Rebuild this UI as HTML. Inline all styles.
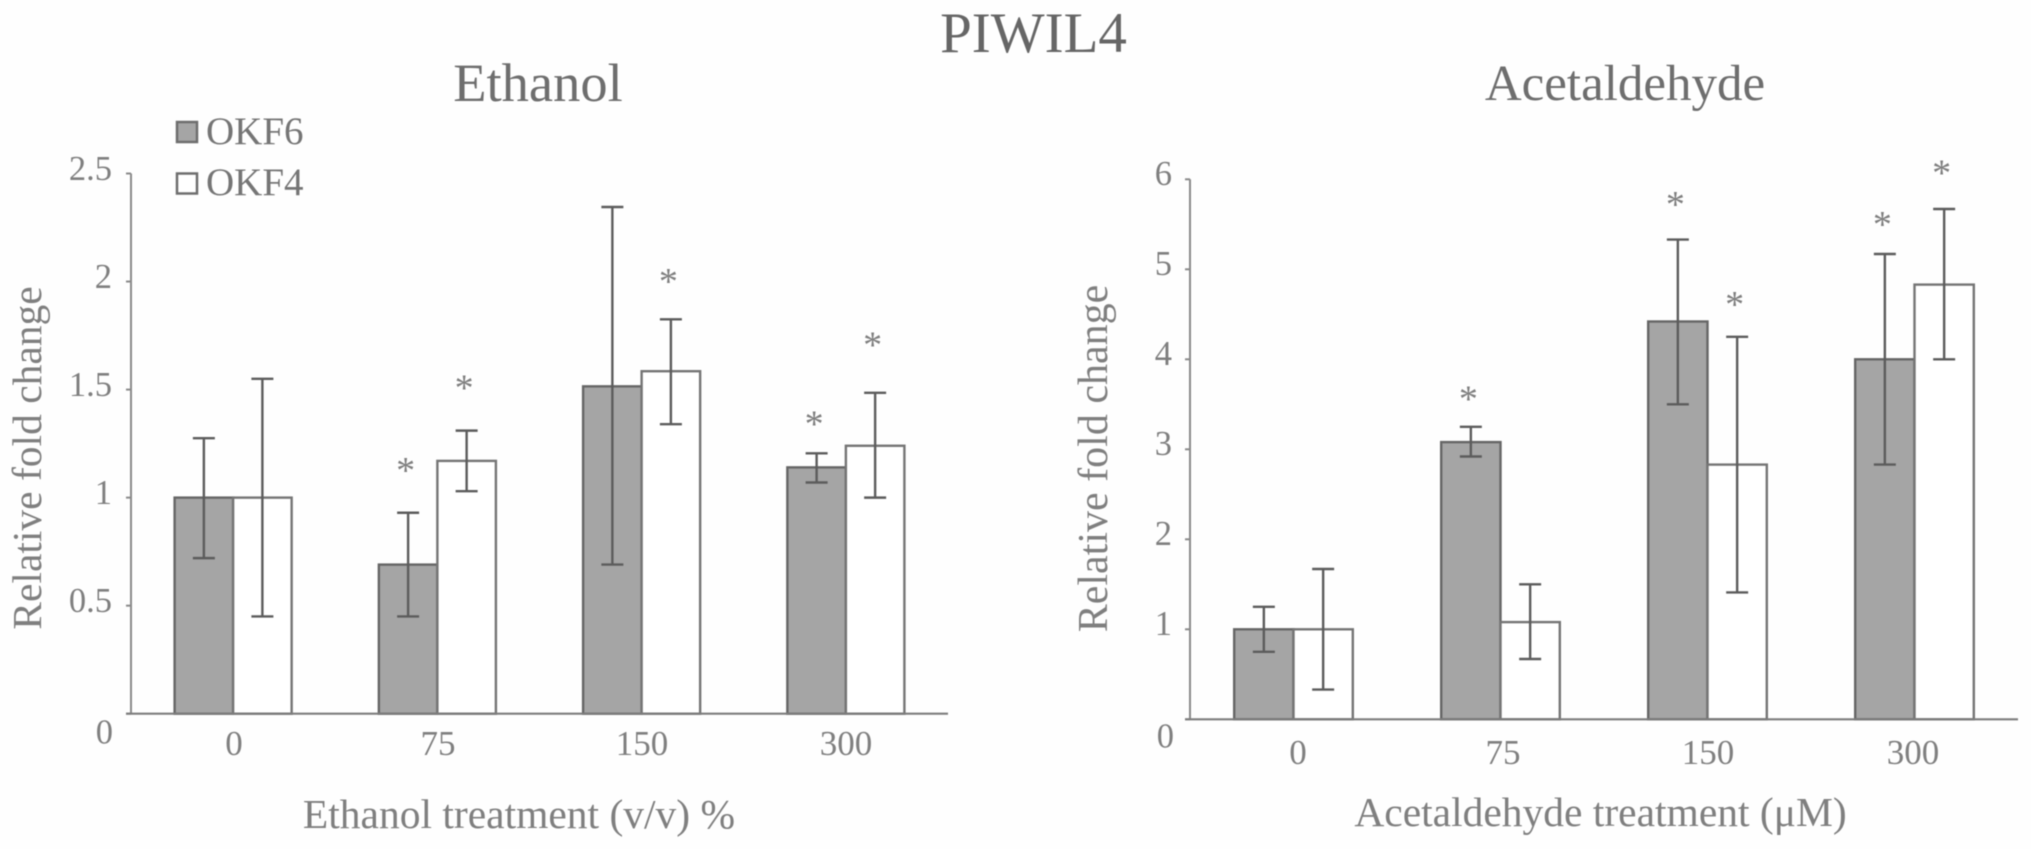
<!DOCTYPE html>
<html>
<head>
<meta charset="utf-8">
<style>
html,body{margin:0;padding:0;background:#fff;}
svg{display:block;filter:blur(0.5px);}
text{font-family:"Liberation Serif",serif;fill:#7f7f7f;}
</style>
</head>
<body>
<svg id="figure" xmlns="http://www.w3.org/2000/svg" width="2031" height="849" viewBox="0 0 2031 849">
  <rect width="2031" height="849" fill="#fefefe"/>
  <text x="1033.5" y="52" font-size="57" text-anchor="middle" style="fill:#666">PIWIL4</text>
  <text x="538" y="101" font-size="54.5" text-anchor="middle" style="fill:#6e6e6e">Ethanol</text>
  <text x="1625" y="100" font-size="51" text-anchor="middle" style="fill:#6e6e6e">Acetaldehyde</text>
  <text transform="translate(41 458) rotate(-90)" font-size="41.5" text-anchor="middle">Relative fold change</text>
  <text transform="translate(1107 458.5) rotate(-90)" font-size="42" text-anchor="middle">Relative fold change</text>
  <text x="519" y="828" font-size="41.5" text-anchor="middle">Ethanol treatment (v/v) %</text>
  <text x="1600.5" y="826" font-size="41.5" text-anchor="middle">Acetaldehyde treatment (μM)</text>
  <g>
    <rect x="177" y="122" width="20" height="20" fill="#a5a5a5" stroke="#6e6e6e" stroke-width="2.5"/>
    <text x="206" y="144" font-size="39" style="fill:#757575">OKF6</text>
    <rect x="177" y="173.5" width="20" height="20" fill="#fff" stroke="#6e6e6e" stroke-width="2.5"/>
    <text x="206" y="195" font-size="39" style="fill:#757575">OKF4</text>
  </g>
</svg>
<script>
const ethanolCategories = ['0', '75', '150', '300'];
const ethanolTicks = [0, 0.5, 1, 1.5, 2, 2.5];
const ethanolOkf6 = [1, 0.69, 1.515, 1.14];
const ethanolOkf4 = [1, 1.17, 1.585, 1.24];
const ethanolOkf6High = [1.275, 0.93, 2.345, 1.205];
const ethanolOkf6Low = [0.72, 0.45, 0.69, 1.07];
const ethanolOkf4High = [1.55, 1.31, 1.825, 1.485];
const ethanolOkf4Low = [0.45, 1.03, 1.34, 1.0];
const ethanolOkf6Stars = [null, 1.152, null, 1.367];
const ethanolOkf4Stars = [null, 1.532, 2.025, 1.732];

const acetCategories = ['0', '75', '150', '300'];
const acetTicks = [0, 1, 2, 3, 4, 5, 6];
const acetOkf6 = [1, 3.08, 4.42, 4.0];
const acetOkf4 = [1, 1.08, 2.83, 4.83];
const acetOkf6High = [1.25, 3.25, 5.33, 5.17];
const acetOkf6Low = [0.75, 2.92, 3.5, 2.83];
const acetOkf4High = [1.67, 1.5, 4.25, 5.67];
const acetOkf4Low = [0.33, 0.67, 1.41, 4.0];
const acetOkf6Stars = [null, 3.62, 5.78, 5.56];
const acetOkf4Stars = [null, null, 4.67, 6.13];

const NS = 'http://www.w3.org/2000/svg';
const fig = document.getElementById('figure');

function make(parent, tag, props, content) {
  const n = document.createElementNS(NS, tag);
  for (const k in props) n.setAttribute(k, props[k]);
  if (content !== undefined) n.textContent = content;
  parent.appendChild(n);
  return n;
}

function drawChart(c) {
  const g = make(fig, 'g', {});
  
  
  const maxTick = c.ticks[c.ticks.length - 1];
  const y = v => c.base - (v / maxTick) * (c.base - c.top);
  const band = (c.right - c.left) / c.categories.length;
  const cx = i => c.left + band * (i + 0.5);
  const barW = band * 0.2865;
  const barX = (i, s) => cx(i) - barW + s * barW;

  const yAxis = make(g, 'line', {x1: c.left, x2: c.left, y1: y(maxTick), y2: c.base, stroke: '#8a8a8a', 'stroke-width': 2});
  
  

  c.ticks.forEach(t => {
    const tick = make(g, 'line', {x1: c.left - 5, x2: c.left, y1: y(t), y2: y(t), stroke: '#8a8a8a', 'stroke-width': 2});
    
    
    const label = make(g, 'text', {x: t === 0 ? c.zeroRight : c.labelRight, y: y(t) + (t === 0 ? c.zeroDy : c.labelDy), 'font-size': 34.5, 'text-anchor': 'end'}, String(t));
    
    
  });

  const series = [
    {name: 'okf6', vals: c.okf6, hi: c.okf6High, lo: c.okf6Low, stars: c.okf6Stars, fill: '#a5a5a5', edge: '#666666'},
    {name: 'okf4', vals: c.okf4, hi: c.okf4High, lo: c.okf4Low, stars: c.okf4Stars, fill: '#ffffff', edge: '#757575'}
  ];

  series.forEach((s, si) => {
    s.vals.forEach((v, i) => {
      const bar = make(g, 'rect', {x: barX(i, si), y: y(v), width: barW, height: c.base - y(v), fill: s.fill, stroke: s.edge, 'stroke-width': 2.4});
      
      
    });
  });

  const xAxis = make(g, 'line', {x1: c.left - 5, x2: c.right, y1: c.base, y2: c.base, stroke: '#7d7d7d', 'stroke-width': 2.2});
  
  

  series.forEach((s, si) => {
    s.vals.forEach((v, i) => {
      const ex = barX(i, si) + barW / 2;
      const err = make(g, 'path', {
        d: 'M' + ex + ' ' + y(s.hi[i]) + 'V' + y(s.lo[i]) +
           'M' + (ex - 11) + ' ' + y(s.hi[i]) + 'H' + (ex + 11) +
           'M' + (ex - 11) + ' ' + y(s.lo[i]) + 'H' + (ex + 11),
        fill: 'none', stroke: '#5c5c5c', 'stroke-width': 2.4
      });
      
      
      if (s.stars[i] !== null) {
        const star = make(g, 'text', {x: ex - 2.5, y: y(s.stars[i]) + 18, 'font-size': 38, 'text-anchor': 'middle'}, '*');
        
        
      }
    });
  });

  c.categories.forEach((cat, i) => {
    const label = make(g, 'text', {x: c.catStart + c.catStep * i, y: c.catY, 'font-size': 35, 'text-anchor': 'middle'}, cat);
    
    
  });
}

drawChart({
  id: 'ethanol', categories: ethanolCategories, ticks: ethanolTicks,
  okf6: ethanolOkf6, okf4: ethanolOkf4, okf6High: ethanolOkf6High, okf6Low: ethanolOkf6Low,
  okf4High: ethanolOkf4High, okf4Low: ethanolOkf4Low, okf6Stars: ethanolOkf6Stars, okf4Stars: ethanolOkf4Stars,
  left: 131, right: 948, top: 173.5, base: 713.7, labelRight: 112, labelDy: 6.5, zeroRight: 113, zeroDy: 30, catY: 755,
  catStart: 234, catStep: 204
});

drawChart({
  id: 'acetaldehyde', categories: acetCategories, ticks: acetTicks,
  okf6: acetOkf6, okf4: acetOkf4, okf6High: acetOkf6High, okf6Low: acetOkf6Low,
  okf4High: acetOkf4High, okf4Low: acetOkf4Low, okf6Stars: acetOkf6Stars, okf4Stars: acetOkf4Stars,
  left: 1190, right: 2018, top: 179.3, base: 719.3, labelRight: 1172, labelDy: 5.5, zeroRight: 1174, zeroDy: 28, catY: 764,
  catStart: 1298, catStep: 205
});
</script>
</body>
</html>
